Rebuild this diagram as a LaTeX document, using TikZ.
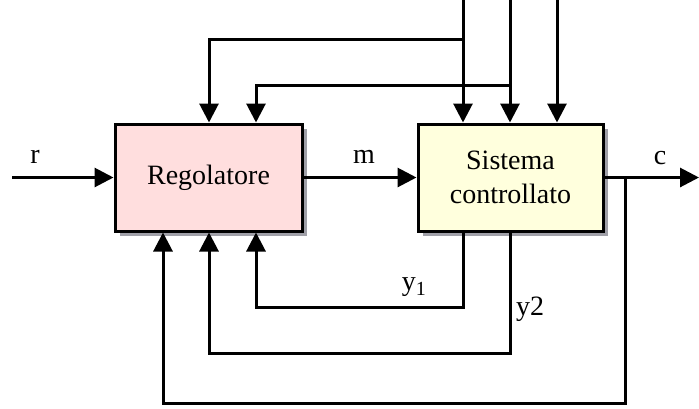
\documentclass[tikz,border=0pt]{standalone}
\usepackage{fontspec}
\setmainfont{Liberation Serif}
\usetikzlibrary{arrows.meta,shadows}
\definecolor{regfill}{RGB}{255,222,222}
\definecolor{sisfill}{RGB}{255,255,221}
\definecolor{shadowgray}{RGB}{160,160,168}
\begin{document}
\begin{tikzpicture}[x=1pt,y=-1pt,
  block/.style={draw=black,line width=3pt,rectangle,minimum width=185pt,minimum height=107pt,
    inner sep=0pt,align=center,font=\fontsize{28}{34}\selectfont,
    drop shadow={shadow xshift=5pt,shadow yshift=-5pt,fill=shadowgray,opacity=1}},
  wire/.style={line width=3pt},
  arr/.style={wire,-{Triangle[length=19pt,width=19pt]}},
  lbl/.style={font=\fontsize{28}{32}\selectfont,inner sep=0pt}]
\useasboundingbox (0,0) rectangle (699,408);
\node[block,fill=regfill,minimum width=187pt] (reg) at (208.5,177.5) {Regolatore};
\node[block,fill=sisfill] (sis) at (510.5,177.5) {Sistema\\controllato};
% input r
\coordinate (rin) at (12,177.5);
\draw[arr] (rin) -- (reg.west);
\node[lbl] (rl) at (35,157) {r};
% m
\draw[arr] (reg.east) -- (sis.west);
\node[lbl] (ml) at (364,157) {m};
% output c
\coordinate (cout) at (699,177.5);
\coordinate (cj) at (625,177.5);
\draw[arr] (sis.east) -- (cout);
\node[lbl] (cl) at (660,158) {c};
% top disturbance inputs
\coordinate (t1) at (463,0);
\coordinate (t2) at (510,0);
\coordinate (t3) at (557,0);
\draw[arr] (t1) -- (t1 |- sis.north);
\draw[arr] (t2) -- (t2 |- sis.north);
\draw[arr] (t3) -- (t3 |- sis.north);
% feedforward branches
\coordinate (j1) at (463,39);
\coordinate (j2) at (510,85);
\coordinate (a1) at (209,39);
\coordinate (a2) at (256,85);
\draw[arr] (j1) -- (a1) -- (a1 |- reg.north);
\draw[arr] (j2) -- (a2) -- (a2 |- reg.north);
% feedback y1
\coordinate (y1a) at (463,307);
\coordinate (y1b) at (256,307);
\draw[arr] (y1a |- sis.south) -- (y1a) -- (y1b) -- (y1b |- reg.south);
\node[lbl] (y1l) at (414,287) {y\textsubscript{\fontsize{20}{22}\selectfont 1}};
% feedback y2
\coordinate (y2a) at (510,353);
\coordinate (y2b) at (209,353);
\draw[arr] (y2a |- sis.south) -- (y2a) -- (y2b) -- (y2b |- reg.south);
\node[lbl] (y2l) at (530,309) {y2};
% feedback c
\coordinate (ca) at (625,403);
\coordinate (cb) at (163,403);
\draw[arr] (cj) -- (ca) -- (cb) -- (cb |- reg.south);
\end{tikzpicture}
\end{document}
